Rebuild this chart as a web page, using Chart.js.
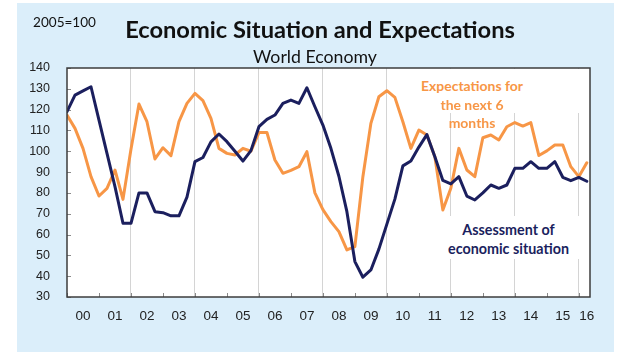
<!DOCTYPE html>
<html><head><meta charset="utf-8">
<script src="https://cdn.jsdelivr.net/npm/chart.js@4.4.1/dist/chart.umd.min.js"></script>
<style>
html,body{margin:0;padding:0;background:#fff;}
body{width:642px;height:356px;position:relative;overflow:hidden}
#panel{position:absolute;left:17px;top:3px;width:597px;height:349px;background:#dbeefa}
#c{position:absolute;left:17px;top:3px}
.tx{position:absolute;white-space:nowrap;line-height:1;transform:translate(-50%,-50%)}
.box{position:absolute;background:#fff}
</style></head><body>
<div id="panel"></div>
<canvas id="c" width="597" height="349"></canvas>
<div class="box" style="left:405px;top:69px;width:183px;height:44px"></div>
<div class="box" style="left:440px;top:216px;width:148px;height:43px"></div>
<script>
// ---- data ----
const quarters = ['2000Q1','2000Q2','2000Q3','2000Q4','2001Q1','2001Q2','2001Q3','2001Q4',
 '2002Q1','2002Q2','2002Q3','2002Q4','2003Q1','2003Q2','2003Q3','2003Q4',
 '2004Q1','2004Q2','2004Q3','2004Q4','2005Q1','2005Q2','2005Q3','2005Q4',
 '2006Q1','2006Q2','2006Q3','2006Q4','2007Q1','2007Q2','2007Q3','2007Q4',
 '2008Q1','2008Q2','2008Q3','2008Q4','2009Q1','2009Q2','2009Q3','2009Q4',
 '2010Q1','2010Q2','2010Q3','2010Q4','2011Q1','2011Q2','2011Q3','2011Q4',
 '2012Q1','2012Q2','2012Q3','2012Q4','2013Q1','2013Q2','2013Q3','2013Q4',
 '2014Q1','2014Q2','2014Q3','2014Q4','2015Q1','2015Q2','2015Q3','2015Q4',
 '2016Q1','2016Q2'];
const assessment = [119,127,129,131,115,99,83,65.4,65.4,80,80,71,70.5,69,69,78,
 95,97,104.5,108.3,104.6,100,95.3,100.3,111.8,115.3,117.4,123,124.6,123,130.5,121.4,
 112.6,101.4,88,71,47,39.5,43,53,65,77,93,95.3,102,108,97.4,86,
 84.3,87.8,78.5,76.6,80,83.8,82.2,83.8,91.8,91.8,95,91.8,91.8,95,87.5,85.9,
 87.5,85.6];
const expectations = [117.4,111,101.4,87.8,78.5,82.2,91,76.9,101,122.7,114.2,96.3,101.7,97.9,114.2,123,
 127.8,124.3,115.8,101.4,99,98.2,101.4,100,109,109,95.8,89.4,90.8,92.6,99.8,80,
 72,66.2,61.4,52.6,54.2,87.8,113.4,126.2,129.1,125.9,114.2,101.4,110.2,107.8,97.4,71.8,
 82.2,101.4,91,87.8,106.5,107.8,105.4,111.8,113.8,112.1,113.8,98,100.2,103,103,92.6,
 87.8,94.5];
const yearLabels = ['00','01','02','03','04','05','06','07','08','09','10','11','12','13','14','15','16'];
const yMin = 30, yMax = 140, yStep = 10;

const NAVY = '#1b1f5e', ORANGE = '#f79646';
const yearStartIdx = quarters.map((q,i)=>q.endsWith('Q1')?i:-1).filter(i=>i>=0);
const labelIdx = yearLabels.map((_,k)=>Math.min(yearStartIdx[k]+2, quarters.length-1));

// ---- texts ----
const mctx = document.createElement('canvas').getContext('2d');
function fitSize(text, weight, family, width){ mctx.font = weight+' 100px '+family; return 100*width/mctx.measureText(text).width; }
function addText(text, cx, cy, size, weight, color, family){
  const d=document.createElement('div'); d.className='tx'; d.textContent=text;
  Object.assign(d.style,{left:cx+'px',top:cy+'px',fontSize:size+'px',fontWeight:weight,color:color,fontFamily:family});
  document.body.appendChild(d);
}
const FAM = 'Lato, "Open Sans", sans-serif';
addText('2005=100', 64.5, 23, fitSize('2005=100','400',FAM,63), '400', '#111', FAM);
addText('Economic Situation and Expectations', 320, 30, fitSize('Economic Situation and Expectations','700',FAM,390), '700', '#111', FAM);
addText('World Economy', 315, 57, fitSize('World Economy','400',FAM,124), '400', '#111', FAM);
const s1 = fitSize('Expectations for','700',FAM,102);
addText('Expectations for', 472, 86, s1, '700', ORANGE, FAM);
addText('the next 6', 472, 104.5, s1, '700', ORANGE, FAM);
addText('months', 472, 123, s1, '700', ORANGE, FAM);
const s2 = fitSize('economic situation','700',FAM,121);
addText('Assessment of', 508.5, 230, s2, '700', NAVY, FAM);
addText('economic situation', 508.5, 248.5, s2, '700', NAVY, FAM);

// ---- chart ----
const framePlugin = {
  id:'frame',
  beforeDraw(chart){
    const {ctx, chartArea:a} = chart;
    ctx.save(); ctx.fillStyle='#fff'; ctx.fillRect(a.left,a.top,a.right-a.left,a.bottom-a.top); ctx.restore();
  },
  beforeDatasetsDraw(chart){
    const {ctx, chartArea:a, scales} = chart;
    const x = scales.x, y = scales.y;
    ctx.save(); ctx.strokeStyle='#8a8a8a'; ctx.lineWidth=1; ctx.beginPath();
    yearStartIdx.forEach(v=>{ const px=Math.round(x.getPixelForValue(v))+0.5; ctx.moveTo(px,a.bottom); ctx.lineTo(px,a.bottom-4); });
    y.ticks.forEach(t=>{ const py=Math.round(y.getPixelForValue(t.value))+0.5; ctx.moveTo(a.left,py); ctx.lineTo(a.left+4,py); });
    ctx.stroke(); ctx.restore();
  },
  afterDatasetsDraw(chart){
    const {ctx, chartArea:a} = chart;
    ctx.save(); ctx.strokeStyle='#3c3c3c'; ctx.lineWidth=1.5;
    ctx.strokeRect(a.left,a.top,a.right-a.left,a.bottom-a.top); ctx.restore();
  }
};

new Chart(document.getElementById('c'), {
  type:'line',
  data:{ datasets:[
    {label:'Assessment of economic situation', data:assessment.map((v,i)=>({x:i,y:v})), borderColor:NAVY, borderWidth:3, pointRadius:0, tension:0, borderJoinStyle:'round', borderCapStyle:'round'},
    {label:'Expectations for the next 6 months', data:expectations.map((v,i)=>({x:i,y:v})), borderColor:ORANGE, borderWidth:3, pointRadius:0, tension:0, borderJoinStyle:'round', borderCapStyle:'round'}
  ]},
  options:{
    responsive:false, animation:false, devicePixelRatio:1,
    layout:{padding:{top:65,right:24,left:0,bottom:0}},
    plugins:{legend:{display:false}, tooltip:{enabled:false}, title:{display:false}},
    scales:{
      x:{type:'linear', position:'bottom', min:0, max:65.4,
        afterBuildTicks:s=>{ s.ticks = yearStartIdx.map(v=>({value:v})); },
        ticks:{display:false},
        grid:{drawTicks:false, lineWidth:1, color:c=>(c.tick && c.tick.value>0 && (c.tick.value/4)%2===0)?'#d4d4d4':'rgba(0,0,0,0)'},
        border:{display:false},
        afterFit:s=>{ s.height=0; }},
      xl:{type:'linear', position:'bottom', min:0, max:65.4,
        afterBuildTicks:s=>{ s.ticks = labelIdx.map(v=>({value:v})); },
        ticks:{autoSkip:false, maxRotation:0, minRotation:0, padding:11, color:'#222', font:{family:'"Liberation Sans", Arial, sans-serif', size:13.5}, callback:(v,i)=>yearLabels[i]},
        grid:{display:false, drawTicks:false}, border:{display:false},
        afterFit:s=>{ s.height=55; }},
      y:{min:yMin, max:yMax,
        ticks:{stepSize:yStep, padding:17, color:'#222', font:{family:'"Liberation Sans", Arial, sans-serif', size:12.5}},
        grid:{display:false, drawTicks:false}, border:{display:false},
        afterFit:s=>{ s.width=50; }}
    }
  },
  plugins:[framePlugin]
});
</script>
</body></html>
